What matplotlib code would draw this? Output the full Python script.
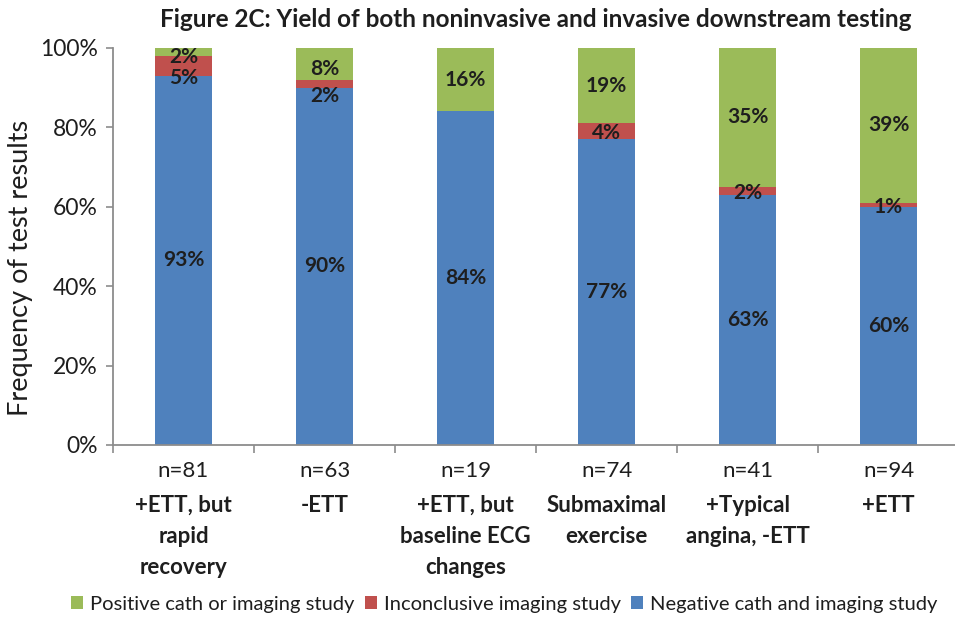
import matplotlib.pyplot as plt
import matplotlib

matplotlib.rcParams['font.family'] = ['Lato', 'DejaVu Sans']

# 分组及样本量
groups = ["+ETT, but\nrapid\nrecovery", "-ETT", "+ETT, but\nbaseline ECG\nchanges",
          "Submaximal\nexercise", "+Typical\nangina, -ETT", "+ETT"]
n_counts = [81, 63, 19, 74, 41, 94]
# 各类结果百分比
negative = [93, 90, 84, 77, 63, 60]
inconclusive = [5, 2, 0, 4, 2, 1]
positive = [2, 8, 16, 19, 35, 39]

c_neg = '#4F81BD'
c_inc = '#C0504D'
c_pos = '#9BBB59'
dark = '#1e1e1e'

fig = plt.figure(figsize=(9.55, 6.21), dpi=100)
ax = fig.add_axes([0.1183, 0.2835, 0.886, 0.6395])

x = range(len(groups))
w = 0.4
b1 = ax.bar(x, negative, width=w, color=c_neg, label='Negative cath and imaging study')
b2 = ax.bar(x, inconclusive, width=w, bottom=negative, color=c_inc, label='Inconclusive imaging study')
bottom2 = [a + b for a, b in zip(negative, inconclusive)]
b3 = ax.bar(x, positive, width=w, bottom=bottom2, color=c_pos, label='Positive cath or imaging study')

# 数据标签：小段标签下移，避免上下重叠
for i in x:
    crowded = positive[i] < 10
    segs = [(0, negative[i], 0),
            (negative[i], inconclusive[i], -9 if crowded else -1.5),
            (bottom2[i], positive[i], -3.5 if crowded else 0)]
    for base, v, dy in segs:
        if v == 0:
            continue
        ax.annotate(f'{v}%', (i, base + v / 2), xytext=(0, dy), textcoords='offset points',
                    ha='center', va='center', fontsize=15, fontweight='bold', color=dark)

ax.set_xlim(-0.5, len(groups) - 0.5)
ax.set_ylim(0, 100)
ax.set_yticks(range(0, 101, 20))
ax.set_yticklabels([f'{v}%' for v in range(0, 101, 20)])
fig.text(21 / 955, 0.568, 'Frequency of test results', rotation=90, ha='center', va='center',
         fontsize=19.5, color=dark)

# 坐标轴样式
for s in ['top', 'right']:
    ax.spines[s].set_visible(False)
for s in ['left', 'bottom']:
    ax.spines[s].set_color('#8c8c8c')
    ax.spines[s].set_linewidth(1.3)
ax.tick_params(axis='y', labelsize=16.5, colors='#8c8c8c', labelcolor=dark,
               length=5, width=1.2, pad=6)
ax.set_xticks(list(x))
ax.set_xticklabels([])
ax.tick_params(axis='x', which='major', length=0)
ax.set_xticks([i - 0.5 for i in range(len(groups) + 1)], minor=True)
ax.tick_params(axis='x', which='minor', length=6, width=1.2, colors='#8c8c8c')

# 分类标签
trans = ax.get_xaxis_transform()
for i in x:
    ax.text(i, -0.04, f'n={n_counts[i]}', transform=trans, ha='center', va='top',
            fontsize=16, color=dark)
    ax.text(i, -0.126, groups[i], transform=trans, ha='center', va='top',
            fontsize=16, fontweight='bold', color=dark, linespacing=1.6)

ax.set_title('Figure 2C: Yield of both noninvasive and invasive downstream testing',
             fontsize=17.5, fontweight='bold', color=dark, pad=15)

fig.legend(handles=[b3, b2, b1], loc='center', bbox_to_anchor=(0.528, 0.027), ncol=3,
           frameon=False, fontsize=14.5, handlelength=0.6, handleheight=0.6,
           handletextpad=0.35, columnspacing=0.5, labelcolor=dark)

plt.savefig('out.png', dpi=100)
